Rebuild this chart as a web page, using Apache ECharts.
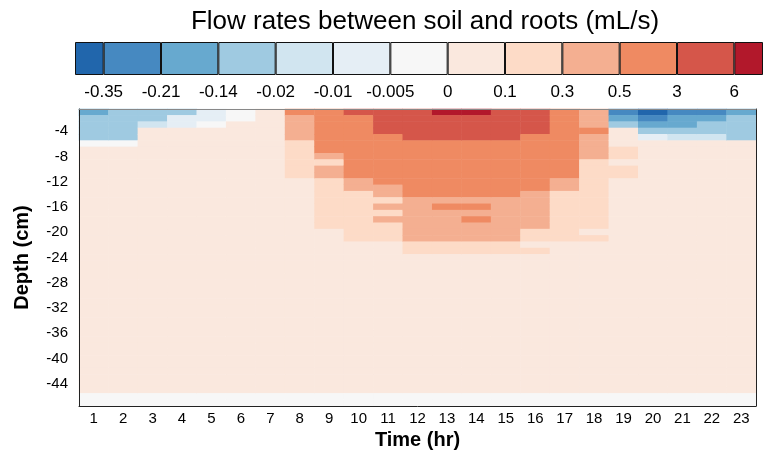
<!DOCTYPE html>
<html>
<head>
<meta charset="utf-8">
<title>Flow rates between soil and roots</title>
<script src="https://cdn.jsdelivr.net/npm/echarts@6/dist/echarts.min.js"></script>
<style>
html, body {margin: 0; padding: 0; background: #fff;}
#main {width: 763px; height: 451px;}
</style>
</head>
<body>
<div id="main"></div>
<script>
// hours on the x axis
var hours = ['1','2','3','4','5','6','7','8','9','10','11','12','13','14','15','16','17','18','19','20','21','22','23'];
// depth rows (cm), bottom to top
var depths = [-47,-46,-45,-44,-43,-42,-41,-40,-39,-38,-37,-36,-35,-34,-33,-32,-31,-30,-29,-28,-27,-26,-25,-24,
              -23,-22,-21,-20,-19,-18,-17,-16,-15,-14,-13,-12,-11,-10,-9,-8,-7,-6,-5,-4,-3,-2,-1];
// colour classes of the legend
var breaks = [-0.35, -0.21, -0.14, -0.02, -0.01, -0.005, 0, 0.1, 0.3, 0.5, 3, 6];
var breakLabels = ['-0.35','-0.21','-0.14','-0.02','-0.01','-0.005','0','0.1','0.3','0.5','3','6'];
var classColors = ['#2166ac','#4689c1','#67a9cf','#9fcae1','#d1e5f0','#e5eef5','#f7f7f7',
                   '#fae8de','#fddbc7','#f4af91','#ef8a62','#d5564a','#b2182b'];

// flow per hour: [from depth, to depth (cm, 1 cm rows), rate mL/s]
var flowByHour = [
    [[1,1,-0.17],[2,5,-0.08],[6,6,-0.002],[7,45,0.05],[46,47,-0.002]],
    [[1,5,-0.08],[6,6,-0.002],[7,45,0.05],[46,47,-0.002]],
    [[1,2,-0.08],[3,3,-0.015],[4,45,0.05],[46,47,-0.002]],
    [[1,1,-0.08],[2,3,-0.007],[4,45,0.05],[46,47,-0.002]],
    [[1,2,-0.007],[3,3,-0.002],[4,45,0.05],[46,47,-0.002]],
    [[1,2,-0.002],[3,45,0.05],[46,47,-0.002]],
    [[1,45,0.05],[46,47,-0.002]],
    [[1,1,1.5],[2,5,0.4],[6,11,0.2],[12,45,0.05],[46,47,-0.002]],
    [[1,7,1.5],[8,8,0.4],[9,9,0.2],[10,11,0.4],[12,19,0.2],[20,45,0.05],[46,47,-0.002]],
    [[1,1,4.5],[2,11,1.5],[12,13,0.4],[14,21,0.2],[22,45,0.05],[46,47,-0.002]],
    [[1,4,4.5],[5,12,1.5],[13,14,0.4],[15,15,0.2],[16,16,0.4],[17,17,0.2],[18,18,0.4],[19,21,0.2],[22,45,0.05],[46,47,-0.002]],
    [[1,5,4.5],[6,14,1.5],[15,21,0.4],[22,23,0.2],[24,45,0.05],[46,47,-0.002]],
    [[1,1,7],[2,5,4.5],[6,14,1.5],[15,15,0.4],[16,16,1.5],[17,21,0.4],[22,23,0.2],[24,45,0.05],[46,47,-0.002]],
    [[1,1,7],[2,5,4.5],[6,14,1.5],[15,15,0.4],[16,16,1.5],[17,17,0.4],[18,18,1.5],[19,21,0.4],[22,23,0.2],[24,45,0.05],[46,47,-0.002]],
    [[1,5,4.5],[6,14,1.5],[15,21,0.4],[22,23,0.2],[24,45,0.05],[46,47,-0.002]],
    [[1,4,4.5],[5,13,1.5],[14,19,0.4],[20,21,0.2],[22,22,0.05],[23,23,0.2],[24,45,0.05],[46,47,-0.002]],
    [[1,11,1.5],[12,13,0.4],[14,21,0.2],[22,45,0.05],[46,47,-0.002]],
    [[1,3,0.4],[4,4,1.5],[5,8,0.4],[9,19,0.2],[20,20,0.05],[21,21,0.2],[22,45,0.05],[46,47,-0.002]],
    [[1,1,-0.28],[2,2,-0.17],[3,3,-0.08],[4,6,0.05],[7,8,0.2],[9,9,0.05],[10,11,0.2],[12,45,0.05],[46,47,-0.002]],
    [[1,1,-0.4],[2,2,-0.28],[3,3,-0.17],[4,4,-0.08],[5,5,-0.007],[6,45,0.05],[46,47,-0.002]],
    [[1,1,-0.28],[2,3,-0.17],[4,4,-0.08],[5,5,-0.015],[6,45,0.05],[46,47,-0.002]],
    [[1,1,-0.28],[2,2,-0.17],[3,4,-0.08],[5,5,-0.015],[6,45,0.05],[46,47,-0.002]],
    [[1,1,-0.17],[2,5,-0.08],[6,45,0.05],[46,47,-0.002]]
];

var FONT = '"Liberation Sans", Arial, sans-serif';

window.onload = function () {
    showFlow();
};

function showFlow() {
    var myChart = echarts.init(document.getElementById('main'));

    // cells for the heatmap
    var cells = [];
    flowByHour.forEach(function (layers, h) {
        layers.forEach(function (l) {
            for (var d = l[0]; d <= l[1]; d++) {
                cells.push([h, depths.indexOf(-d), l[2]]);
            }
        });
    });

    // colour classes for visualMap
    var pieces = [];
    for (var i = 0; i < classColors.length; i++) {
        var p = {color: classColors[i]};
        if (i > 0) p.gte = breaks[i - 1];
        if (i < breaks.length) p.lt = breaks[i];
        pieces.push(p);
    }

    // legend bar: half classes at both ends
    var legendSeries = classColors.map(function (c, i) {
        var w = (i === 0 || i === classColors.length - 1) ? 0.5 : 1;
        return {
            type: 'bar',
            xAxisIndex: 1,
            yAxisIndex: 1,
            stack: 'legend',
            barWidth: '100%',
            silent: true,
            data: [w],
            itemStyle: {color: c, borderColor: '#111', borderWidth: 1}
        };
    });
    var tickPos = breaks.map(function (b, i) { return i + 0.5; });

    var showDepth = function (index, value) { return Number(value) % 4 === 0; };

    var option = {
        animation: false,
        textStyle: {fontFamily: FONT},
        title: {
            text: 'Flow rates between soil and roots (mL/s)',
            left: 420,
            textAlign: 'center',
            top: 4,
            textStyle: {fontSize: 26, fontWeight: 'normal', color: '#000', fontFamily: FONT}
        },
        grid: [
            {left: 79, right: 7, top: 109, bottom: 45, outerBoundsMode: 'none', containLabel: false},
            {left: 75, right: 0, top: 42, height: 33, outerBoundsMode: 'none', containLabel: false}
        ],
        visualMap: {
            type: 'piecewise',
            show: false,
            seriesIndex: 0,
            pieces: pieces
        },
        xAxis: [
            {
                type: 'category',
                gridIndex: 0,
                z: 10,
                data: hours,
                name: 'Time (hr)',
                nameLocation: 'middle',
                nameGap: 23,
                nameTextStyle: {fontSize: 20, fontWeight: 'bold', color: '#000', fontFamily: FONT},
                axisLine: {lineStyle: {color: '#222', width: 1}},
                axisTick: {alignWithLabel: true, inside: true, length: 8, lineStyle: {color: '#333'}},
                axisLabel: {interval: 0, fontSize: 15, color: '#000', margin: 5, fontFamily: FONT},
                splitLine: {show: false}
            },
            {
                type: 'value',
                gridIndex: 1,
                min: 0,
                max: 12,
                axisLine: {show: false},
                axisTick: {show: false},
                splitLine: {show: false},
                axisLabel: {
                    customValues: tickPos,
                    fontSize: 17,
                    color: '#000',
                    margin: 9,
                    fontFamily: FONT,
                    formatter: function (v) { return breakLabels[Math.round(v - 0.5)]; }
                }
            },
            {
                type: 'category',
                gridIndex: 0,
                z: 10,
                position: 'top',
                data: hours,
                axisLine: {lineStyle: {color: '#888', width: 1}},
                axisTick: {show: false},
                axisLabel: {show: false}
            }
        ],
        yAxis: [
            {
                type: 'category',
                gridIndex: 0,
                z: 10,
                data: depths,
                name: 'Depth (cm)',
                nameLocation: 'middle',
                nameRotate: 90,
                nameGap: 47,
                nameTextStyle: {fontSize: 20, fontWeight: 'bold', color: '#000', fontFamily: FONT},
                axisLine: {lineStyle: {color: '#222', width: 1}},
                axisTick: {alignWithLabel: true, inside: true, length: 8, interval: showDepth, lineStyle: {color: '#333'}},
                axisLabel: {interval: showDepth, fontSize: 15, color: '#000', margin: 11, fontFamily: FONT},
                splitLine: {show: false}
            },
            {
                type: 'category',
                gridIndex: 1,
                data: ['legend'],
                show: false
            },
            {
                type: 'category',
                gridIndex: 0,
                z: 10,
                position: 'right',
                data: depths,
                axisLine: {lineStyle: {color: '#222', width: 1}},
                axisTick: {show: false},
                axisLabel: {show: false}
            }
        ],
        series: [
            {
                type: 'heatmap',
                xAxisIndex: 0,
                yAxisIndex: 0,
                data: cells,
                progressive: 0,
                emphasis: {disabled: true}
            }
        ].concat(legendSeries)
    };
    myChart.setOption(option);
}
</script>
</body>
</html>
